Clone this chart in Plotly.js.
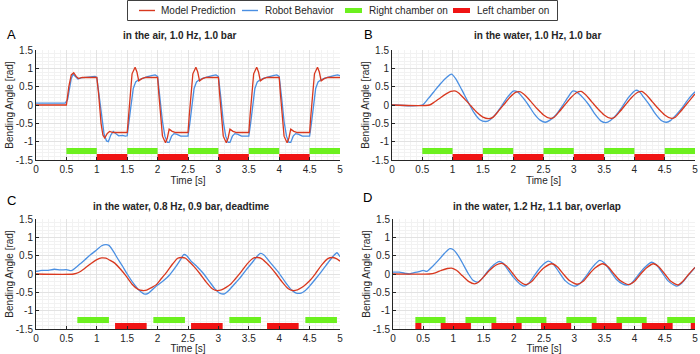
<!DOCTYPE html>
<html>
<head>
<meta charset="utf-8">
<script src="https://cdn.plot.ly/plotly-3.0.1.min.js"></script>
<style>html,body{margin:0;padding:0;background:#fff}#chart{width:700px;height:354px}</style>
</head>
<body>
<div id="chart"></div>
<script>
// ---------------- DATA ----------------
const xTickVals = [0, 0.5, 1, 1.5, 2, 2.5, 3, 3.5, 4, 4.5, 5];
const xTickText = ['0', '0.5', '1', '1.5', '2', '2.5', '3', '3.5', '4', '4.5', '5'];
const yTickVals = [-1.5, -1, -0.5, 0, 0.5, 1, 1.5];
const yTickText = ['-1.5', '-1', '-0.5', '0', '0.5', '1', '1.5'];

const panelTitles = ['in the air, 1.0 Hz, 1.0 bar', 'in the water, 1.0 Hz, 1.0 bar',
  'in the water, 0.8 Hz, 0.9 bar, deadtime', 'in the water, 1.2 Hz, 1.1 bar, overlap'];
const panelLetters = ['A', 'B', 'C', 'D'];
const seriesNames = ['Model Prediction', 'Robot Behavior', 'Right chamber on', 'Left chamber on'];

// Panel A: in the air
const tA_model = [0, 0.5, 0.54, 0.58, 0.62, 0.66, 0.70, 0.76, 1.0,
  1.03, 1.07, 1.10, 1.13, 1.17, 1.21, 1.27, 1.5,
  1.52, 1.55, 1.58, 1.63, 1.66, 1.69, 1.74, 1.8, 2.0,
  2.02, 2.05, 2.08, 2.13, 2.16, 2.19, 2.24, 2.3, 2.5,
  2.52, 2.55, 2.58, 2.63, 2.66, 2.69, 2.74, 2.8, 3.0,
  3.02, 3.05, 3.08, 3.13, 3.16, 3.19, 3.24, 3.3, 3.5,
  3.52, 3.55, 3.58, 3.63, 3.66, 3.69, 3.74, 3.8, 4.0,
  4.02, 4.05, 4.08, 4.13, 4.16, 4.19, 4.24, 4.3, 4.5,
  4.52, 4.55, 4.58, 4.63, 4.66, 4.69, 4.74, 4.8, 5.0];
const yA_model = [0, 0, 0.5, 0.82, 0.88, 0.78, 0.72, 0.75, 0.75,
  0.3, -0.5, -0.82, -0.9, -0.78, -0.72, -0.75, -0.75,
  -0.3, 0.4, 0.85, 1.03, 0.9, 0.66, 0.72, 0.75, 0.75,
  0.3, -0.4, -0.85, -1.03, -0.9, -0.66, -0.72, -0.75, -0.75,
  -0.3, 0.4, 0.85, 1.03, 0.9, 0.66, 0.72, 0.75, 0.75,
  0.3, -0.4, -0.85, -1.03, -0.9, -0.66, -0.72, -0.75, -0.75,
  -0.3, 0.4, 0.85, 1.03, 0.9, 0.66, 0.72, 0.75, 0.75,
  0.3, -0.4, -0.85, -1.03, -0.9, -0.66, -0.72, -0.75, -0.75,
  -0.3, 0.4, 0.85, 1.03, 0.9, 0.66, 0.72, 0.75, 0.75];
const tA_robot = [0, 0.48, 0.52, 0.55, 0.58, 0.61, 0.65, 0.69, 0.74, 0.8, 0.9, 0.97, 1.0,
  1.04, 1.08, 1.12, 1.16, 1.19, 1.23, 1.27, 1.31, 1.36, 1.42, 1.47, 1.5,
  1.53, 1.56, 1.6, 1.64, 1.68, 1.75, 1.82, 1.9, 1.96, 2.0,
  2.04, 2.08, 2.12, 2.16, 2.19, 2.23, 2.27, 2.32, 2.38, 2.45, 2.5,
  2.53, 2.56, 2.6, 2.64, 2.68, 2.75, 2.82, 2.9, 2.96, 3.0,
  3.04, 3.08, 3.12, 3.16, 3.19, 3.23, 3.27, 3.32, 3.38, 3.45, 3.5,
  3.53, 3.56, 3.6, 3.64, 3.68, 3.75, 3.82, 3.9, 3.96, 4.0,
  4.04, 4.08, 4.12, 4.16, 4.19, 4.23, 4.27, 4.32, 4.38, 4.45, 4.5,
  4.53, 4.56, 4.6, 4.64, 4.68, 4.75, 4.82, 4.9, 4.96, 5.0];
const yA_robot = [0.05, 0.05, 0.15, 0.45, 0.72, 0.84, 0.78, 0.71, 0.74, 0.75, 0.76, 0.78, 0.75,
  0.2, -0.4, -0.8, -0.98, -1.0, -0.82, -0.72, -0.78, -0.84, -0.83, -0.85, -0.84,
  -0.5, -0.05, 0.45, 0.63, 0.68, 0.73, 0.77, 0.8, 0.82, 0.78,
  0.2, -0.45, -0.85, -1.02, -1.02, -0.85, -0.78, -0.8, -0.85, -0.84, -0.85,
  -0.5, -0.05, 0.45, 0.63, 0.68, 0.73, 0.77, 0.8, 0.82, 0.78,
  0.2, -0.45, -0.85, -1.02, -1.02, -0.85, -0.78, -0.8, -0.85, -0.84, -0.85,
  -0.5, -0.05, 0.45, 0.63, 0.68, 0.73, 0.77, 0.8, 0.82, 0.78,
  0.2, -0.45, -0.85, -1.02, -1.02, -0.85, -0.78, -0.8, -0.85, -0.84, -0.85,
  -0.5, -0.05, 0.45, 0.63, 0.68, 0.73, 0.77, 0.8, 0.82, 0.8];
const rightOnA = [0.5, 1.5, 2.5, 3.5, 4.5], rightOffA = [1.0, 2.0, 3.0, 4.0, 5.0];
const leftOnA = [1.0, 2.0, 3.0, 4.0], leftOffA = [1.5, 2.5, 3.5, 4.5];

// Panel B: in the water, 1.0 Hz
const tB_model = [0, 0.62, 0.7, 0.8, 0.9, 0.97, 1.05, 1.1, 1.2, 1.3, 1.4, 1.5, 1.6, 1.67, 1.75, 1.85, 1.95, 2.05, 2.12, 2.2,
  2.3, 2.4, 2.5, 2.6, 2.67, 2.75, 2.85, 2.95, 3.05, 3.12, 3.2, 3.3, 3.4, 3.5, 3.6, 3.67, 3.75, 3.85, 3.95, 4.05,
  4.12, 4.2, 4.3, 4.4, 4.5, 4.6, 4.67, 4.75, 4.85, 4.95, 5.0];
const yB_model = [0, 0, 0.08, 0.2, 0.31, 0.37, 0.38, 0.33, 0.16, -0.02, -0.2, -0.33, -0.37, -0.33, -0.18, 0.02, 0.22, 0.35, 0.36, 0.26,
  0.08, -0.11, -0.27, -0.36, -0.34, -0.2, 0.0, 0.2, 0.34, 0.37, 0.27, 0.08, -0.11, -0.27, -0.36, -0.34, -0.2, 0.0, 0.2, 0.34,
  0.37, 0.27, 0.08, -0.11, -0.27, -0.36, -0.34, -0.2, 0.0, 0.2, 0.3];
const tB_robot = [0, 0.5, 0.6, 0.7, 0.8, 0.9, 0.98, 1.05, 1.15, 1.25, 1.35, 1.45, 1.55, 1.62, 1.7, 1.8, 1.9, 2.0, 2.07, 2.15,
  2.25, 2.35, 2.45, 2.53, 2.6, 2.7, 2.8, 2.9, 2.98, 3.05, 3.15, 3.25, 3.35, 3.45, 3.53, 3.6, 3.7, 3.8, 3.9, 4.02,
  4.08, 4.15, 4.25, 4.35, 4.45, 4.53, 4.6, 4.7, 4.8, 4.9, 5.0];
const yB_robot = [0, 0, 0.18, 0.38, 0.58, 0.75, 0.84, 0.72, 0.42, 0.1, -0.2, -0.4, -0.45, -0.4, -0.27, -0.05, 0.2, 0.38, 0.36, 0.22,
  0.0, -0.25, -0.42, -0.47, -0.42, -0.28, -0.05, 0.2, 0.38, 0.35, 0.2, 0.0, -0.25, -0.44, -0.48, -0.43, -0.27, -0.05, 0.2, 0.4,
  0.37, 0.22, 0.0, -0.25, -0.43, -0.47, -0.42, -0.25, -0.05, 0.18, 0.36];
const rightOnB = [0.5, 1.5, 2.5, 3.5, 4.5], rightOffB = [1.0, 2.0, 3.0, 4.0, 5.0];
const leftOnB = [1.0, 2.0, 3.0, 4.0], leftOffB = [1.5, 2.5, 3.5, 4.5];

// Panel C: in the water, 0.8 Hz, deadtime
const tC_model = [0, 0.62, 0.7, 0.8, 0.9, 1.0, 1.08, 1.15, 1.22, 1.3, 1.38, 1.48, 1.58, 1.68, 1.75, 1.82, 1.9, 1.98, 2.05, 2.15,
  2.25, 2.33, 2.4, 2.46, 2.53, 2.6, 2.7, 2.8, 2.9, 2.97, 3.05, 3.12, 3.2, 3.27, 3.37, 3.47, 3.57, 3.64, 3.71, 3.78,
  3.85, 3.95, 4.05, 4.15, 4.22, 4.3, 4.37, 4.44, 4.52, 4.6, 4.7, 4.8, 4.87, 4.94, 5.0];
const yC_model = [0, 0, 0.04, 0.15, 0.28, 0.39, 0.44, 0.43, 0.37, 0.29, 0.15, -0.05, -0.28, -0.42, -0.45, -0.44, -0.37, -0.29, -0.15, 0.05,
  0.28, 0.43, 0.45, 0.43, 0.32, 0.2, 0.0, -0.22, -0.4, -0.45, -0.43, -0.37, -0.28, -0.15, 0.05, 0.27, 0.43, 0.45, 0.42, 0.32,
  0.2, 0.0, -0.22, -0.4, -0.45, -0.43, -0.37, -0.28, -0.15, 0.02, 0.25, 0.42, 0.45, 0.42, 0.35];
const tC_robot = [0, 0.1, 0.2, 0.3, 0.4, 0.5, 0.58, 0.65, 0.72, 0.8, 0.9, 1.0, 1.08, 1.15, 1.2, 1.26, 1.34, 1.42, 1.5, 1.6,
  1.7, 1.79, 1.85, 1.93, 2.0, 2.1, 2.2, 2.3, 2.38, 2.43, 2.48, 2.55, 2.65, 2.75, 2.85, 2.95, 3.03, 3.1, 3.17, 3.25,
  3.35, 3.45, 3.55, 3.63, 3.69, 3.75, 3.82, 3.9, 4.0, 4.1, 4.2, 4.28, 4.36, 4.43, 4.5, 4.6, 4.7, 4.8, 4.88, 4.95, 5.0];
const yC_robot = [0.07, 0.1, 0.1, 0.13, 0.11, 0.12, 0.09, 0.17, 0.27, 0.38, 0.53, 0.66, 0.77, 0.8, 0.78, 0.65, 0.43, 0.22, 0.0, -0.25,
  -0.45, -0.55, -0.52, -0.4, -0.3, -0.18, -0.02, 0.2, 0.4, 0.53, 0.5, 0.35, 0.2, 0.02, -0.2, -0.42, -0.53, -0.54, -0.45, -0.3,
  -0.12, 0.1, 0.3, 0.47, 0.56, 0.52, 0.38, 0.22, 0.02, -0.22, -0.43, -0.52, -0.52, -0.45, -0.33, -0.13, 0.08, 0.3, 0.47, 0.58, 0.47];
const rightOnC = [0.68, 1.93, 3.18, 4.43], rightOffC = [1.2, 2.45, 3.7, 4.95];
const leftOnC = [1.3, 2.55, 3.8], leftOffC = [1.82, 3.07, 4.32];

// Panel D: in the water, 1.2 Hz, overlap
const tD_model = [0, 0.6, 0.7, 0.8, 0.9, 0.97, 1.05, 1.15, 1.25, 1.35, 1.42, 1.5, 1.6, 1.7, 1.8, 1.88, 1.98, 2.08, 2.2, 2.3,
  2.4, 2.5, 2.63, 2.72, 2.82, 2.92, 3.05, 3.15, 3.25, 3.35, 3.47, 3.56, 3.66, 3.76, 3.9, 4.0, 4.1, 4.2, 4.31, 4.4,
  4.5, 4.6, 4.72, 4.8, 4.9, 5.0];
const yD_model = [0, 0, 0.03, 0.1, 0.15, 0.16, 0.1, -0.05, -0.2, -0.27, -0.22, -0.08, 0.1, 0.24, 0.29, 0.22, 0.02, -0.18, -0.29, -0.2,
  0.0, 0.17, 0.28, 0.2, 0.0, -0.18, -0.28, -0.2, 0.0, 0.17, 0.28, 0.2, 0.0, -0.18, -0.29, -0.2, 0.0, 0.17, 0.28, 0.2,
  0.0, -0.2, -0.3, -0.2, 0.0, 0.18];
const tD_robot = [0, 0.1, 0.2, 0.27, 0.35, 0.45, 0.5, 0.56, 0.65, 0.75, 0.85, 0.94, 1.0, 1.07, 1.15, 1.25, 1.33, 1.4, 1.48, 1.57,
  1.67, 1.75, 1.82, 1.9, 2.0, 2.1, 2.17, 2.25, 2.35, 2.45, 2.57, 2.65, 2.75, 2.85, 2.95, 3.02, 3.1, 3.2, 3.3, 3.42,
  3.5, 3.6, 3.7, 3.8, 3.87, 3.95, 4.05, 4.15, 4.28, 4.36, 4.45, 4.55, 4.65, 4.7, 4.78, 4.88, 5.0];
const yD_robot = [0.05, 0.05, 0.02, 0.0, 0.04, 0.07, 0.1, 0.07, 0.2, 0.37, 0.56, 0.69, 0.66, 0.52, 0.3, 0.0, -0.18, -0.22, -0.12, 0.08,
  0.25, 0.34, 0.3, 0.12, -0.1, -0.27, -0.33, -0.25, -0.02, 0.2, 0.35, 0.28, 0.05, -0.18, -0.3, -0.33, -0.25, -0.05, 0.18, 0.37,
  0.3, 0.08, -0.15, -0.27, -0.3, -0.25, -0.05, 0.15, 0.32, 0.25, 0.05, -0.18, -0.3, -0.33, -0.25, -0.05, 0.18];
const rightOnD = [0.37, 1.2, 2.04, 2.87, 3.7, 4.54], rightOffD = [0.87, 1.71, 2.54, 3.37, 4.2, 5.0];
const leftOnD = [0.37, 0.79, 1.63, 2.45, 3.29, 4.12, 4.93], leftOffD = [0.47, 1.29, 2.13, 2.95, 3.79, 4.63, 5.0];

// ---------------- STYLE ----------------
const W = 700, H = 354;
const px = x => x / W, py = y => 1 - y / H;
const C_MODEL = '#d8381f', C_ROBOT = '#4a8fe2', C_RIGHT = '#6cf01e', C_LEFT = '#f01414';
const TXT = '#262626';
const FONT = 'Liberation Sans, Arial, Helvetica, sans-serif';

const panels = [
  {tm: tA_model, ym: yA_model, tr: tA_robot, yr: yA_robot, rOn: rightOnA, rOff: rightOffA, lOn: leftOnA, lOff: leftOffA, shape: 'linear'},
  {tm: tB_model, ym: yB_model, tr: tB_robot, yr: yB_robot, rOn: rightOnB, rOff: rightOffB, lOn: leftOnB, lOff: leftOffB, shape: 'spline'},
  {tm: tC_model, ym: yC_model, tr: tC_robot, yr: yC_robot, rOn: rightOnC, rOff: rightOffC, lOn: leftOnC, lOff: leftOffC, shape: 'spline'},
  {tm: tD_model, ym: yD_model, tr: tD_robot, yr: yD_robot, rOn: rightOnD, rOff: rightOffD, lOn: leftOnD, lOff: leftOffD, shape: 'spline'}
];
// pixel boxes of each plot area [x0, x1, yTop, yBottom]
const boxes = [[36, 340, 50, 160], [392, 695, 50, 160], [36, 340, 219, 329], [393, 695, 219, 329]];
const titleCenters = [[180, 36], [537, 36], [181, 206], [537, 206]];
const letterPos = [[5, 34], [362, 34], [5, 200], [361, 198]];

const RIGHT_Y = -1.255, LEFT_Y = -1.418, BAR_H = 0.165;

const traces = [];
const layout = {
  width: W, height: H,
  margin: {l: 0, r: 0, t: 0, b: 0},
  paper_bgcolor: '#fff', plot_bgcolor: '#fff',
  font: {family: FONT, size: 10, color: TXT},
  showlegend: false,
  barmode: 'overlay',
  annotations: [], shapes: []
};

panels.forEach((p, i) => {
  const n = i + 1;
  const xk = n === 1 ? 'x' : 'x' + n, yk = n === 1 ? 'y' : 'y' + n;
  const b = boxes[i];
  const common = {
    ticks: 'inside', ticklen: 3, tickwidth: 1, tickcolor: TXT,
    showline: true, linecolor: TXT, linewidth: 1, mirror: false,
    showgrid: true, gridcolor: '#e2e2e2', gridwidth: 1,
    zeroline: false, fixedrange: true, ticklabeloverflow: 'allow',
    tickfont: {family: FONT, size: 10, color: TXT}
  };
  layout['xaxis' + (n === 1 ? '' : n)] = Object.assign({}, common, {
    domain: [px(b[0]), px(b[1])], anchor: yk, range: [0, 5],
    tickmode: 'array', tickvals: xTickVals, ticktext: xTickText,
    minor: {tick0: 0, dtick: 0.1, showgrid: true, gridcolor: '#f2f2f2', gridwidth: 1, ticks: ''},
    title: {text: 'Time [s]', font: {family: FONT, size: 10, color: TXT}, standoff: 0}
  });
  layout['yaxis' + (n === 1 ? '' : n)] = Object.assign({}, common, {
    domain: [py(b[3]), py(b[2])], anchor: xk, range: [-1.5, 1.5],
    tickmode: 'array', tickvals: yTickVals, ticktext: yTickText,
    minor: {tick0: 0, dtick: 0.1, showgrid: true, gridcolor: '#f2f2f2', gridwidth: 1, ticks: ''},
    title: {text: 'Bending Angle [rad]', font: {family: FONT, size: 10, color: TXT}, standoff: 0}
  });

  // chamber bars (horizontal bars spanning on-time intervals)
  traces.push({
    type: 'bar', orientation: 'h', xaxis: xk, yaxis: yk, name: seriesNames[2],
    base: p.rOn, x: p.rOff.map((e, k) => e - p.rOn[k]), y: p.rOn.map(() => RIGHT_Y),
    width: BAR_H, marker: {color: C_RIGHT, line: {width: 0}}, hoverinfo: 'skip'
  });
  traces.push({
    type: 'bar', orientation: 'h', xaxis: xk, yaxis: yk, name: seriesNames[3],
    base: p.lOn, x: p.lOff.map((e, k) => e - p.lOn[k]), y: p.lOn.map(() => LEFT_Y),
    width: BAR_H, marker: {color: C_LEFT, line: {width: 0}}, hoverinfo: 'skip'
  });
  traces.push({
    type: 'scatter', mode: 'lines', xaxis: xk, yaxis: yk, name: seriesNames[1],
    x: p.tr, y: p.yr, line: {color: C_ROBOT, width: 1.3, shape: p.shape, smoothing: 0.6}
  });
  traces.push({
    type: 'scatter', mode: 'lines', xaxis: xk, yaxis: yk, name: seriesNames[0],
    x: p.tm, y: p.ym, line: {color: C_MODEL, width: 1.3, shape: p.shape, smoothing: 0.6}
  });

  layout.annotations.push({
    xref: 'paper', yref: 'paper', x: px(titleCenters[i][0]), y: py(titleCenters[i][1]),
    xanchor: 'center', yanchor: 'middle', showarrow: false,
    text: '<b>' + panelTitles[i] + '</b>', font: {family: FONT, size: 10, color: TXT}
  });
  layout.annotations.push({
    xref: 'paper', yref: 'paper', x: px(letterPos[i][0]), y: py(letterPos[i][1]),
    xanchor: 'left', yanchor: 'middle', showarrow: false,
    text: panelLetters[i], font: {family: FONT, size: 13, color: '#000'}
  });
});

// legend (drawn in the figure's top strip)
layout.shapes.push({type: 'rect', xref: 'paper', yref: 'paper', x0: px(127.5), x1: px(557.5), y0: py(20.5), y1: py(0.5),
  line: {color: '#404040', width: 1}, fillcolor: '#fff'});
const legendItems = [
  {kind: 'line', color: C_MODEL, x0: 139, x1: 155, tx: 159, text: seriesNames[0]},
  {kind: 'line', color: C_ROBOT, x0: 242, x1: 258, tx: 263, text: seriesNames[1]},
  {kind: 'rect', color: C_RIGHT, x0: 345, x1: 362, tx: 367, text: seriesNames[2]},
  {kind: 'rect', color: C_LEFT, x0: 453, x1: 470, tx: 475, text: seriesNames[3]}
];
legendItems.forEach(it => {
  if (it.kind === 'line') {
    layout.shapes.push({type: 'line', xref: 'paper', yref: 'paper', x0: px(it.x0), x1: px(it.x1), y0: py(10.5), y1: py(10.5),
      line: {color: it.color, width: 1.4}});
  } else {
    layout.shapes.push({type: 'rect', xref: 'paper', yref: 'paper', x0: px(it.x0), x1: px(it.x1), y0: py(13), y1: py(8),
      line: {width: 0}, fillcolor: it.color});
  }
  layout.annotations.push({xref: 'paper', yref: 'paper', x: px(it.tx), y: py(10.5), xanchor: 'left', yanchor: 'middle',
    showarrow: false, text: it.text, font: {family: FONT, size: 10, color: TXT}});
});

Plotly.newPlot('chart', traces, layout, {staticPlot: true, displayModeBar: false});
</script>
</body>
</html>
